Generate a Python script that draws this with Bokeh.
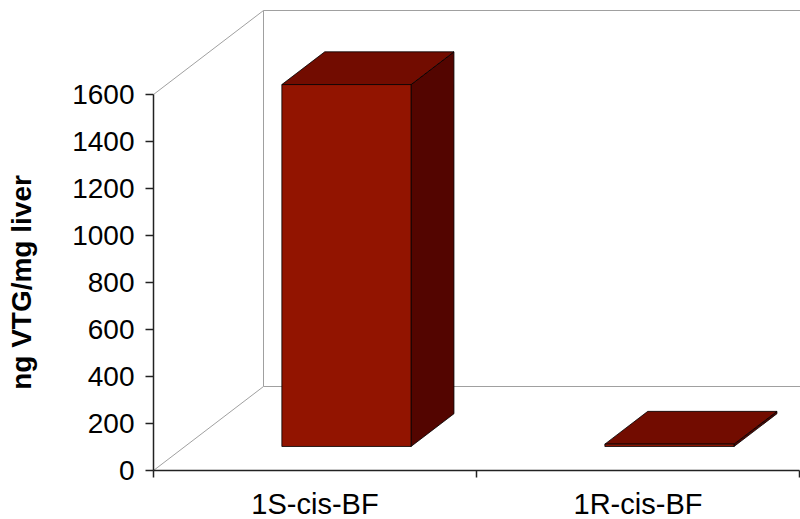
from bokeh.plotting import figure
from bokeh.models import Range1d, FixedTicker, LinearAxis, ColumnDataSource
from bokeh.embed import file_html
from bokeh.resources import INLINE

# ---- data ----
categories = ["1S-cis-BF", "1R-cis-BF"]
values = [1540, 10]
y_ticks = [0, 200, 400, 600, 800, 1000, 1200, 1400, 1600]
y_max = 1600

# ---- oblique projection / layout constants ----
W, H = 800, 519
PX_X = 323.0          # pixels per category
PX_Y = 0.235          # pixels per value unit
ORIGIN_X = 153        # canvas px of x=0
ORIGIN_Y = 470        # canvas px (from top) of y=0
DEPTH_DX = 110 / PX_X
DEPTH_DY = 84 / PX_Y
BAR_W = 0.4
D_FRONT = 0.286
D_BACK = 0.676

FRONT_C = "#921400"
TOP_C = "#720c00"
SIDE_C = "#530500"
WALL_C = "#a0a0a0"
FONT = "Liberation Sans"

p = figure(width=W, height=H, output_backend="svg", toolbar_location=None,
           x_range=Range1d(-ORIGIN_X / PX_X, (W - ORIGIN_X) / PX_X),
           y_range=Range1d(-(H - ORIGIN_Y) / PX_Y, ORIGIN_Y / PX_Y),
           x_axis_location=None, y_axis_location=None,
           min_border=0, min_border_left=0, min_border_right=0,
           min_border_top=0, min_border_bottom=0)
p.outline_line_color = None
p.background_fill_color = "white"
p.border_fill_color = "white"
p.xgrid.visible = False
p.ygrid.visible = False

# ---- walls / floor (gray) ----
n = len(categories)
bx = DEPTH_DX
by = DEPTH_DY
wall_xs = [[0, bx], [0, bx], [bx, bx], [bx, n + bx], [bx, n + bx]]
wall_ys = [[y_max, y_max + by], [0, by], [by, y_max + by], [y_max + by, y_max + by], [by, by]]
p.multi_line(xs=wall_xs, ys=wall_ys, line_color=WALL_C, line_width=1)

# ---- 3D bars ----
front = dict(xs=[], ys=[])
top = dict(xs=[], ys=[])
side = dict(xs=[], ys=[])
fdx, fdy = D_FRONT * DEPTH_DX, D_FRONT * DEPTH_DY
kdx, kdy = D_BACK * DEPTH_DX, D_BACK * DEPTH_DY
for i, v in enumerate(values):
    x0 = i + 0.5 - BAR_W / 2
    x1 = i + 0.5 + BAR_W / 2
    front["xs"].append([x0 + fdx, x1 + fdx, x1 + fdx, x0 + fdx])
    front["ys"].append([fdy, fdy, v + fdy, v + fdy])
    top["xs"].append([x0 + fdx, x1 + fdx, x1 + kdx, x0 + kdx])
    top["ys"].append([v + fdy, v + fdy, v + kdy, v + kdy])
    side["xs"].append([x1 + fdx, x1 + kdx, x1 + kdx, x1 + fdx])
    side["ys"].append([fdy, kdy, v + kdy, v + fdy])

p.patches(xs="xs", ys="ys", source=ColumnDataSource(side), fill_color=SIDE_C,
          line_color="black", line_width=0.8)
p.patches(xs="xs", ys="ys", source=ColumnDataSource(top), fill_color=TOP_C,
          line_color="black", line_width=0.8)
p.patches(xs="xs", ys="ys", source=ColumnDataSource(front), fill_color=FRONT_C,
          line_color="black", line_width=0.8)

# ---- axes ----
yaxis = LinearAxis(ticker=FixedTicker(ticks=y_ticks), bounds=(0, y_max), fixed_location=0,
                   axis_label="ng VTG/mg liver")
yaxis.axis_line_color = "#222222"
yaxis.axis_line_width = 1.5
yaxis.major_tick_line_color = "#222222"
yaxis.major_tick_line_width = 1.5
yaxis.major_tick_out = 8
yaxis.major_tick_in = 0
yaxis.minor_tick_out = 0
yaxis.major_label_standoff = 11
yaxis.major_label_text_font = FONT
yaxis.major_label_text_font_size = "28px"
yaxis.major_label_text_color = "black"
yaxis.axis_label_text_font = FONT
yaxis.axis_label_text_font_size = "28px"
yaxis.axis_label_text_font_style = "bold"
yaxis.axis_label_text_color = "black"
yaxis.axis_label_standoff = 32
p.add_layout(yaxis, "left")

centers = [i + 0.5 for i in range(n)]
xaxis = LinearAxis(ticker=FixedTicker(ticks=centers, minor_ticks=list(range(n + 1))),
                   bounds=(0, n), fixed_location=0)
xaxis.major_label_overrides = {c: lab for c, lab in zip(centers, categories)}
xaxis.axis_line_color = "#222222"
xaxis.axis_line_width = 1.5
xaxis.major_tick_out = 0
xaxis.major_tick_in = 0
xaxis.minor_tick_out = 7
xaxis.minor_tick_in = 0
xaxis.minor_tick_line_color = "#222222"
xaxis.minor_tick_line_width = 1.5
xaxis.major_label_standoff = 10
xaxis.major_label_text_font = FONT
xaxis.major_label_text_font_size = "29px"
xaxis.major_label_text_color = "black"
p.add_layout(xaxis, "below")

open("out.html", "w").write(file_html(p, INLINE))
